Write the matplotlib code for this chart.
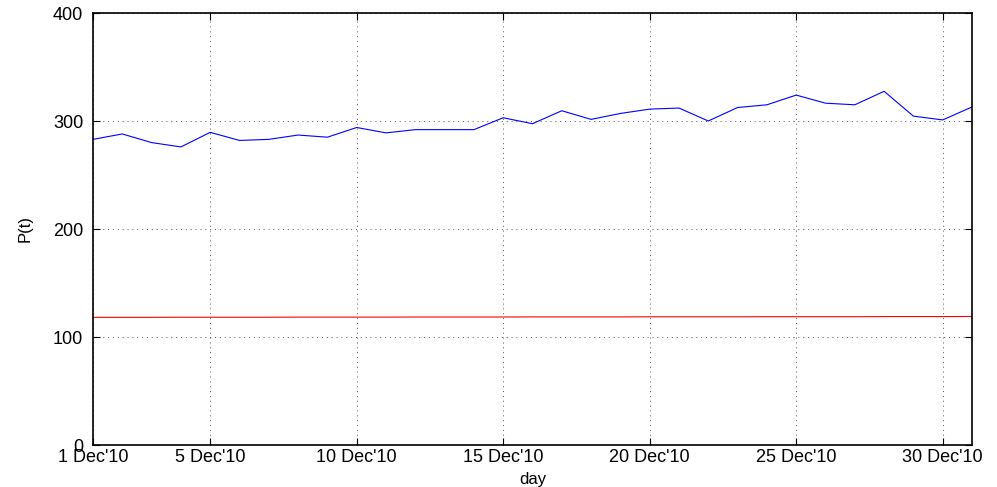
import numpy as np
import matplotlib
matplotlib.use("Agg")
import matplotlib.pyplot as plt

plt.rcParams['font.family'] = ['Liberation Sans', 'DejaVu Sans']

# dias de dezembro/2010
days = list(range(1, 32))
price = [283, 288, 280, 276, 289.5, 282, 283, 287, 285, 294, 289, 292, 292, 292,
         303, 297.5, 309.5, 301.5, 307, 311, 312, 300, 312.5, 315, 324, 316.5, 315,
         327.5, 304.5, 301, 313]
level = [118.2, 118.2, 118.2, 118.3, 118.3, 118.3, 118.3, 118.4, 118.4, 118.4, 118.4,
         118.5, 118.5, 118.5, 118.5, 118.6, 118.6, 118.6, 118.6, 118.7, 118.7, 118.7,
         118.7, 118.8, 118.8, 118.8, 118.8, 118.9, 118.9, 118.9, 119.0]
xticks = [1, 5, 10, 15, 20, 25, 30]
xticklabels = ["1 Dec'10", "5 Dec'10", "10 Dec'10", "15 Dec'10", "20 Dec'10", "25 Dec'10", "30 Dec'10"]
yticks = [0, 100, 200, 300, 400]

fig = plt.figure(figsize=(9.97, 4.87), dpi=100)
ax = fig.add_axes([93/997, 1 - 445/487, (972-93)/997, (445-13)/487])

ax.plot(days, price, color='#0000ff', lw=0.8)
ax.plot(days, level, color='#ff0000', lw=0.8)

ax.set_xlim(1, 31)
ax.set_ylim(0, 400)
ax.set_xticks(xticks)
ax.set_xticklabels(xticklabels)
ax.set_yticks(yticks)
ax.tick_params(direction='in', top=True, right=True, labelsize=13, length=5, width=0.8)
ax.tick_params(axis='y', pad=7)
ax.tick_params(axis='x', pad=3)
ax.grid(True, linestyle=(0, (1, 4)), color='#555555', linewidth=0.7)
for s in ax.spines.values():
    s.set_linewidth(1.2)

ax.set_xlabel('day', fontsize=12, labelpad=4)
ax.set_ylabel('P(t)', fontsize=12, labelpad=15)

fig.savefig('out.png', dpi=100)
